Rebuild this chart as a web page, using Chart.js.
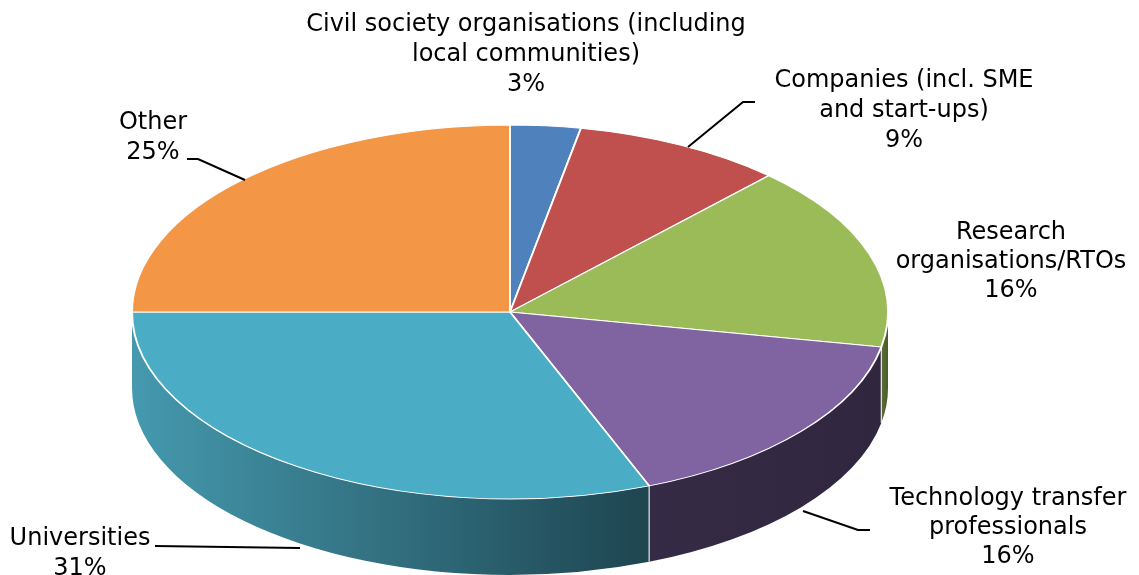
<!DOCTYPE html>
<html>
<head>
<meta charset="utf-8">
<script src="https://cdn.jsdelivr.net/npm/chart.js@4/dist/chart.umd.min.js"></script>
<style>
  html, body { margin: 0; background: #fff; }
  #wrap { width: 1139px; height: 575px; }
</style>
</head>
<body>
<div id="wrap"><canvas id="pie" width="1139" height="575"></canvas></div>
<script>
// data (clockwise from 12 o'clock)
const categories = [
  ["Civil society organisations (including", "local communities)"],
  ["Companies (incl. SME", "and start-ups)"],
  ["Research", "organisations/RTOs"],
  ["Technology transfer", "professionals"],
  ["Universities"],
  ["Other"]
];
const values = [3, 9, 16, 16, 31, 25];

const topColors = ["#4F81BD", "#C0504D", "#9BBB59", "#8064A2", "#4BACC6", "#F39645"];
const wallColors = [
  ["#2F4D71", "#2A4565"],
  ["#73302E", "#672B29"],
  ["#5D7035", "#4A5A2A"],
  ["#362B46", "#30263E"],
  ["#4599AE", "#1E4550"],
  ["#915A2A", "#814F25"]
];

// ellipse geometry of the 3D disc
const CX = 510, CY = 312, RX = 378, RY = 187, DEPTH = 76;

// label placement: centre x, line centre y's, optional leader line
const labelLayout = [
  { x: 526, ys: [25, 55, 85] },
  { x: 904, ys: [81, 111, 141], leader: [[688, 147], [743, 102], [755, 102]] },
  { x: 1011, ys: [233, 262, 291] },
  { x: 1008, ys: [499, 528, 557], leader: [[803, 511], [858, 530], [870, 530]] },
  { x: 80, ys: [539, 569], leader: [[300, 548], [155, 546]] },
  { x: 153, ys: [123, 153], leader: [[245, 180], [198, 159], [187, 159]] }
];

const total = values.reduce((a, b) => a + b, 0);

const pie3d = {
  id: "pie3d",
  beforeDatasetsDraw(chart) {
    const ctx = chart.ctx;
    const arcs = chart.getDatasetMeta(0).data;

    // front side walls (lower half of the ellipse)
    const edges = [];
    arcs.forEach((arc, i) => {
      [-2 * Math.PI, 0, 2 * Math.PI].forEach(off => {
        const lo = Math.max(arc.startAngle, off);
        const hi = Math.min(arc.endAngle, off + Math.PI);
        if (hi <= lo) return;
        const xL = CX + RX * Math.cos(hi), xR = CX + RX * Math.cos(lo);
        const g = ctx.createLinearGradient(Math.min(xL, xR), 0, Math.max(xL, xR), 0);
        g.addColorStop(0, wallColors[i][0]);
        g.addColorStop(1, wallColors[i][1]);
        ctx.beginPath();
        ctx.ellipse(CX, CY, RX, RY, 0, lo, hi);
        ctx.lineTo(CX + RX * Math.cos(hi), CY + RY * Math.sin(hi) + DEPTH);
        ctx.ellipse(CX, CY + DEPTH, RX, RY, 0, hi, lo, true);
        ctx.closePath();
        ctx.fillStyle = g;
        ctx.fill();
        if (lo > off + 0.001) edges.push(lo);
      });
    });
    ctx.save();
    ctx.strokeStyle = "rgba(255,255,255,0.85)";
    ctx.lineWidth = 1.2;
    edges.forEach(a => {
      const x = CX + RX * Math.cos(a), y = CY + RY * Math.sin(a);
      ctx.beginPath();
      ctx.moveTo(x, y);
      ctx.lineTo(x, y + DEPTH);
      ctx.stroke();
    });
    ctx.restore();

    // squash the library's circle into the top ellipse
    const a0 = arcs[0];
    ctx.save();
    ctx.translate(CX, CY);
    ctx.scale(RX / a0.outerRadius, RY / a0.outerRadius);
    ctx.translate(-a0.x, -a0.y);
  },
  afterDatasetsDraw(chart) {
    chart.ctx.restore();
  },
  afterDraw(chart) {
    const ctx = chart.ctx;
    ctx.save();
    ctx.fillStyle = "#000";
    ctx.strokeStyle = "#000";
    ctx.lineWidth = 2;
    ctx.font = "24px 'DejaVu Sans'";
    ctx.textAlign = "center";
    ctx.textBaseline = "middle";
    categories.forEach((lines, i) => {
      const L = labelLayout[i];
      const pct = Math.round(values[i] / total * 100) + "%";
      const all = lines.concat([pct]);
      all.forEach((t, j) => ctx.fillText(t, L.x, L.ys[j]));
      if (L.leader) {
        ctx.beginPath();
        L.leader.forEach((p, k) => k ? ctx.lineTo(p[0], p[1]) : ctx.moveTo(p[0], p[1]));
        ctx.stroke();
      }
    });
    ctx.restore();
  }
};

new Chart(document.getElementById("pie"), {
  type: "pie",
  data: {
    labels: categories.map(l => l.join(" ")),
    datasets: [{
      data: values,
      backgroundColor: topColors,
      borderColor: "#ffffff",
      borderWidth: 1.5
    }]
  },
  options: {
    responsive: false,
    animation: false,
    layout: { padding: 0 },
    plugins: {
      legend: { display: false },
      tooltip: { enabled: false }
    }
  },
  plugins: [pie3d]
});
</script>
</body>
</html>
